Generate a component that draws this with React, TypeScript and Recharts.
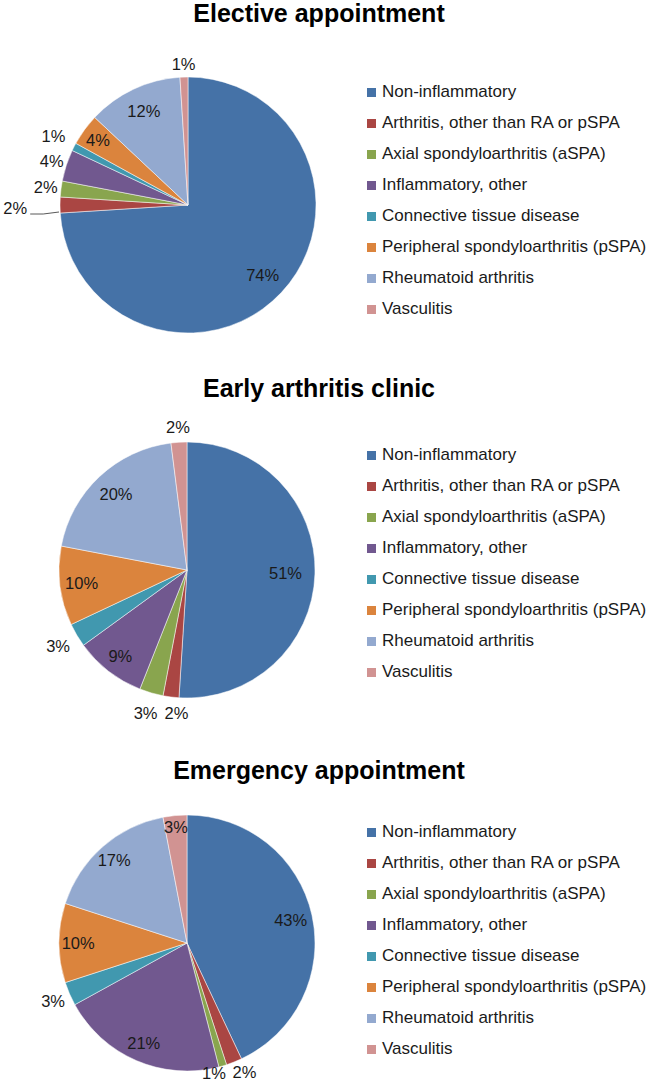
import React from 'react';
import { PieChart, Pie, Cell, Legend } from 'recharts';

const categories = [
  'Non-inflammatory',
  'Arthritis, other than RA or pSPA',
  'Axial spondyloarthritis (aSPA)',
  'Inflammatory, other',
  'Connective tissue disease',
  'Peripheral spondyloarthritis (pSPA)',
  'Rheumatoid arthritis',
  'Vasculitis',
];
const colors = ['#4572A7', '#AA4643', '#89A54E', '#71588F', '#4198AF', '#DB843D', '#93A9CF', '#D19392'];

const electiveValues = [74, 2, 2, 4, 1, 4, 12, 1];
const earlyValues = [51, 2, 3, 9, 3, 10, 20, 2];
const emergencyValues = [43, 2, 1, 21, 3, 10, 17, 3];

const titles = ['Elective appointment', 'Early arthritis clinic', 'Emergency appointment'];

// label distance from centre, as a fraction of the radius (layout only)
const electiveLabelRadius = [0.8, 1.35, 1.12, 1.12, 1.18, 0.87, 0.81, 1.1];
const earlyLabelRadius = [0.77, 1.12, 1.16, 0.85, 1.17, 0.83, 0.81, 1.12];
const emergencyLabelRadius = [0.83, 1.1, 1.04, 0.85, 1.14, 0.85, 0.86, 0.91];
// small angular nudges (degrees, clockwise) for crowded outside labels (layout only)
const electiveLabelShift = [0, 0, 0, 0, 0, 0, 0, 0];
const earlyLabelShift = [0, -3, 0, 0, 0, 0, 0, 0];
const emergencyLabelShift = [0, -2.5, 4.5, 0, 0, 0, 0, 0];

const FONT = '"Liberation Sans", Arial, sans-serif';
const RAD = Math.PI / 180;

const charts = [
  { values: electiveValues, labelR: electiveLabelRadius, shift: electiveLabelShift, top: 0, height: 365, cx: 183, cy: 200, titleY: 13, legendTop: 76.5, leader: 1 },
  { values: earlyValues, labelR: earlyLabelRadius, shift: earlyLabelShift, top: 370, height: 370, cx: 182, cy: 195, titleY: 18, legendTop: 69.5, leader: -1 },
  { values: emergencyValues, labelR: emergencyLabelRadius, shift: emergencyLabelShift, top: 720, height: 361, cx: 182, cy: 218, titleY: 50, legendTop: 96.5, leader: -1 },
];

const LegendContent = (props: any) => {
  const payload = [...(props.payload || [])].sort(
    (a: any, b: any) => categories.indexOf(a.value) - categories.indexOf(b.value)
  );
  return (
    <div style={{ fontFamily: FONT, fontSize: 17, color: '#1a1a1a' }}>
      {payload.map((e: any, i: number) => (
        <div key={i} style={{ height: 31, display: 'flex', alignItems: 'center', whiteSpace: 'nowrap' }}>
          <span style={{ display: 'inline-block', width: 9, height: 9, background: e.color, marginRight: 6, flex: 'none' }} />
          <span>{e.value}</span>
        </div>
      ))}
    </div>
  );
};

const makeLabel = (labelR: number[], shift: number[], leader: number) => (p: any) => {
  const { cx, cy, midAngle, outerRadius, index, value } = p;
  const r = outerRadius * labelR[index];
  const ang = midAngle - shift[index];
  const cos = Math.cos(-ang * RAD);
  const sin = Math.sin(-ang * RAD);
  const x = cx + r * cos;
  const y = cy + r * sin;
  const text = (
    <text
      x={x}
      y={index === leader ? y + 3 : y}
      textAnchor="middle"
      dominantBaseline="central"
      fontFamily={FONT}
      fontSize={16.5}
      fill="#1a1a1a"
    >
      {value + '%'}
    </text>
  );
  if (index === leader) {
    const ex = cx + outerRadius * Math.cos(-midAngle * RAD) - 1;
    const ey = cy + outerRadius * Math.sin(-midAngle * RAD) + 7;
    return (
      <g key={'l' + index}>
        <polyline points={`${ex},${ey} ${x + 28},${y + 9} ${x + 15},${y + 9}`} fill="none" stroke="#595959" strokeWidth={1} />
        {text}
      </g>
    );
  }
  return <g key={'l' + index}>{text}</g>;
};

export default function App() {
  return (
    <div style={{ position: 'absolute', left: 0, top: 0, width: 651, height: 1081, background: '#fff', overflow: 'hidden' }}>
      {charts.map((c, ci) => {
        const data = categories.map((name, i) => ({ name, value: c.values[i] }));
        return (
          <div key={ci} style={{ position: 'absolute', left: 0, top: c.top, width: 651, height: c.height }}>
            <div
              style={{
                position: 'absolute',
                left: 0,
                width: 638,
                top: c.titleY - 13,
                height: 26,
                lineHeight: '26px',
                textAlign: 'center',
                fontFamily: FONT,
                fontWeight: 'bold',
                fontSize: 25,
                color: '#000',
                whiteSpace: 'nowrap',
              }}
            >
              {titles[ci]}
            </div>
            <PieChart width={651} height={c.height} style={{ position: 'absolute', left: 0, top: 0 }}>
              <Pie
                data={data}
                dataKey="value"
                nameKey="name"
                cx={c.cx}
                cy={c.cy}
                outerRadius={128}
                startAngle={90}
                endAngle={-270}
                stroke="#ffffff"
                strokeWidth={0.5}
                isAnimationActive={false}
                labelLine={false}
                label={makeLabel(c.labelR, c.shift, c.leader)}
              >
                {data.map((d, i) => (
                  <Cell key={i} fill={colors[i]} />
                ))}
              </Pie>
              <Legend
                layout="vertical"
                align="right"
                verticalAlign="top"
                content={<LegendContent />}
                wrapperStyle={{ left: 367, top: c.legendTop, right: 'auto', width: 284 }}
              />
            </PieChart>
          </div>
        );
      })}
    </div>
  );
}
